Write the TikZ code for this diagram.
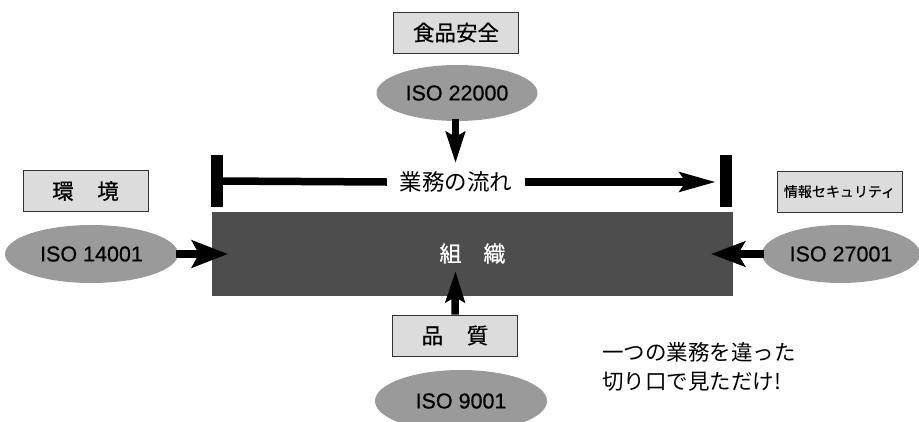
\documentclass[tikz,border=0pt]{standalone}
\usepackage{fontspec}
\setmainfont{Liberation Sans}
\newfontfamily\isofont[FakeBold=0.6]{Liberation Sans}
\newfontfamily\jp{Noto Sans CJK JP}
\newfontfamily\jpm[FakeBold=0.6]{Noto Sans CJK JP}
\usetikzlibrary{arrows.meta,calc,shapes.geometric}
\definecolor{orggray}{HTML}{4D4D4D}
\definecolor{isogray}{HTML}{9A9A9A}
\definecolor{boxgray}{HTML}{DCDCDC}
\begin{document}
\begin{tikzpicture}[x=1pt,y=-1pt,
  lbox/.style={draw=black!80, fill=boxgray, line width=0.8pt, minimum width=125pt, minimum height=41pt, inner sep=0pt, font=\jpm\fontsize{21.5}{22}\selectfont},
  iso/.style={ellipse, fill=isogray, inner sep=0pt, font=\isofont\fontsize{21.5}{22}\selectfont},
  varrow/.style={line width=7.5pt, -{Stealth[length=31pt,width=19pt,inset=5pt]}},
  harrow/.style={line width=8pt, -{Stealth[length=36pt,width=27pt,inset=7pt]}},
  flowline/.style={line width=7.5pt},
  bar/.style={fill=black, minimum width=12pt, minimum height=52pt, inner sep=0pt}
]
\useasboundingbox (0,0) rectangle (919,421);
\begin{scope}
\clip (0,0) rectangle (919,421);

% organisation block
\node[fill=orggray, minimum width=521pt, minimum height=84pt, inner sep=0pt,
      text=white, font=\jpm\fontsize{22}{22}\selectfont] (org) at (472.5,253.5) {組\hspace{1em}織};

% labels
\node[lbox] (food) at (456,32.5) {食品安全};
\node[lbox] (env) at (85.5,191) {環\hspace{1.1em}境};
\node[lbox, font=\jpm\fontsize{14}{14}\selectfont] (sec) at (839.5,191.5) {情報セキュリティ};
\node[lbox] (qual) at (455,335.5) {品\hspace{1.1em}質};

% ISO ellipses
\node[iso, minimum width=161pt, minimum height=56pt] (e22) at (457,93) {ISO 22000};
\node[iso, minimum width=173pt, minimum height=58pt] (e14) at (91.5,254) {ISO 14001};
\node[iso, minimum width=158pt, minimum height=58pt] (e27) at (841,254) {ISO 27001};
\node[iso, minimum width=172pt, minimum height=62pt] (e9) at (461,401) {ISO 9001};

% flow of work
\node[bar] (lbar) at (217,181) {};
\node[bar] (rbar) at (726,181) {};
\node[font=\jp\fontsize{22.5}{22}\selectfont, inner sep=0pt, minimum width=138pt] (flow) at (456,182) {業務の流れ};
\draw[flowline] (lbar.center) -- (flow.west);
\coordinate (flowtip) at (716,182);
\draw[flowline, -{Stealth[length=36pt,width=19pt,inset=6pt]}] (flow.east) -- (flowtip);

% arrows into organisation
\coordinate (ttip) at (455.5,163);
\draw[varrow] (e22.south) ++(-1.5,-2) -- (ttip);
\coordinate (btip) at (455.5,271);
\draw[varrow] (qual.north) -- (btip);
\coordinate (ltip) at (228,254);
\draw[harrow] ($(e14.east)+(-2,0)$) -- (ltip);
\coordinate (rtip) at (711,254);
\draw[line width=8pt, -{Stealth[length=34pt,width=25pt,inset=7pt]}] ($(e27.west)+(2,0)$) -- (rtip);

% note
\node[anchor=west, inner sep=0pt, font=\jp\fontsize{21.5}{22}\selectfont] (note1) at (602,352) {一つの業務を違った};
\node[anchor=west, inner sep=0pt, font=\jp\fontsize{21.5}{22}\selectfont] (note2) at (602,382) {切り口で見ただけ!};
\end{scope}
\end{tikzpicture}
\end{document}
